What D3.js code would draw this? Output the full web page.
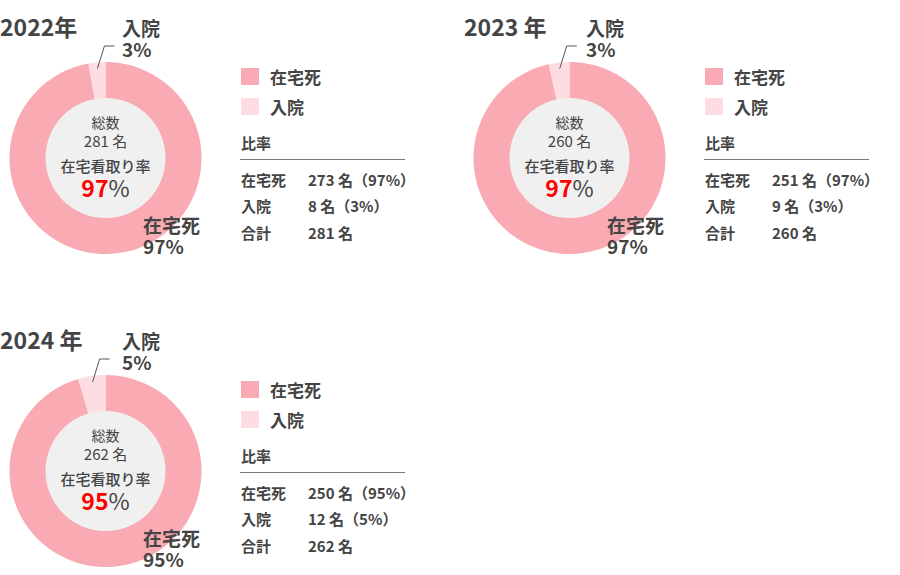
<!DOCTYPE html>
<html>
<head>
<meta charset="utf-8">
<script src="https://cdn.jsdelivr.net/npm/d3@7"></script>
<style>
  body { margin: 0; background: #fff; }
  svg { display: block; font-family: "Noto Sans CJK JP", "Noto Sans", sans-serif; }
</style>
</head>
<body>
<div id="chart"></div>
<script>
// data
const years = ["2022年", "2023 年", "2024 年"];
const categories = ["在宅死", "入院"];
const homeCounts = [273, 251, 250];
const hospCounts = [8, 9, 12];
const homePct = [97, 97, 95];
const hospPct = [3, 3, 5];

const width = 900, height = 575;
const colors = { "在宅死": "#f9aab3", "入院": "#fddde2" };
const textColor = "#444";

const svg = d3.select("#chart").append("svg")
    .attr("width", width)
    .attr("height", height);

const offsets = [[0, 0], [464, 0], [0, 313]];
const cx = 105.5, cy = 158, rOuter = 96, rInner = 59;

const pie = d3.pie().sort(null).value(d => d.value);
const arc = d3.arc().innerRadius(rInner).outerRadius(rOuter);

years.forEach((year, i) => {
    const total = homeCounts[i] + hospCounts[i];
    const slices = [
        { key: categories[0], value: homeCounts[i] },
        { key: categories[1], value: hospCounts[i] }
    ];
    const g = svg.append("g")
        .attr("transform", `translate(${offsets[i][0]}, ${offsets[i][1]})`);

    // title
    g.append("text")
        .attr("x", 0).attr("y", 36)
        .attr("font-size", 23).attr("font-weight", 700)
        .attr("fill", textColor)
        .text(year);

    // donut
    const donut = g.append("g").attr("transform", `translate(${cx}, ${cy})`);
    const arcs = pie(slices);
    donut.selectAll("path")
        .data(arcs)
        .join("path")
        .attr("d", arc)
        .attr("fill", d => colors[d.data.key]);

    donut.append("circle")
        .attr("r", rInner + 1)
        .attr("fill", "#f0f0f0");

    // center text
    const center = donut.append("g").attr("text-anchor", "middle").attr("fill", textColor);
    center.append("text").attr("y", -30).attr("font-size", 14).text("総数");
    center.append("text").attr("y", -11).attr("font-size", 15).text(`${total} 名`);
    center.append("text").attr("y", 14).attr("font-size", 15).attr("font-weight", 500).text("在宅看取り率");
    const big = center.append("text").attr("y", 39).attr("font-size", 23).attr("font-weight", 700);
    big.append("tspan").attr("fill", "#ff0000").text(homePct[i]);
    big.append("tspan").attr("fill", textColor).attr("font-weight", 400).text("%");

    // leader line for 入院
    const hosp = arcs[1];
    const mid = (hosp.startAngle + hosp.endAngle) / 2;
    const r0 = 90;
    const p0 = [r0 * Math.sin(mid), -r0 * Math.cos(mid)];
    const p1 = [p0[0] + 7, -112];
    const p2 = [p1[0] + 10, -112];
    donut.append("path")
        .attr("d", d3.line()([p0, p1, p2]))
        .attr("fill", "none")
        .attr("stroke", "#555")
        .attr("stroke-width", 1);

    const lab = g.append("g").attr("font-size", 19).attr("font-weight", 700).attr("fill", textColor);
    lab.append("text").attr("x", 122).attr("y", 36).text(categories[1]);
    lab.append("text").attr("x", 122).attr("y", 57).text(`${hospPct[i]}%`);
    lab.append("text").attr("x", 143).attr("y", 233).text(categories[0]);
    lab.append("text").attr("x", 143).attr("y", 254).text(`${homePct[i]}%`);

    // legend
    const legend = g.append("g").attr("transform", "translate(241, 68)");
    categories.forEach((c, j) => {
        legend.append("rect")
            .attr("x", 0).attr("y", j * 30)
            .attr("width", 18).attr("height", 17)
            .attr("fill", colors[c]);
        legend.append("text")
            .attr("x", 29).attr("y", j * 30 + 16)
            .attr("font-size", 17).attr("font-weight", 700)
            .attr("fill", textColor)
            .text(c);
    });

    // table
    const tbl = g.append("g").attr("fill", textColor).attr("font-weight", 700).attr("font-size", 15);
    tbl.append("text").attr("x", 241).attr("y", 149).text("比率");
    tbl.append("line")
        .attr("x1", 240).attr("x2", 405)
        .attr("y1", 159.5).attr("y2", 159.5)
        .attr("stroke", "#777").attr("stroke-width", 1);
    const rows = [
        [categories[0], `${homeCounts[i]} 名（${homePct[i]}%）`, 186],
        [categories[1], `${hospCounts[i]} 名（${hospPct[i]}%）`, 212],
        ["合計", `${total} 名`, 239]
    ];
    rows.forEach(r => {
        tbl.append("text").attr("x", 241).attr("y", r[2]).text(r[0]);
        tbl.append("text").attr("x", 308).attr("y", r[2]).text(r[1]);
    });
});
</script>
</body>
</html>
